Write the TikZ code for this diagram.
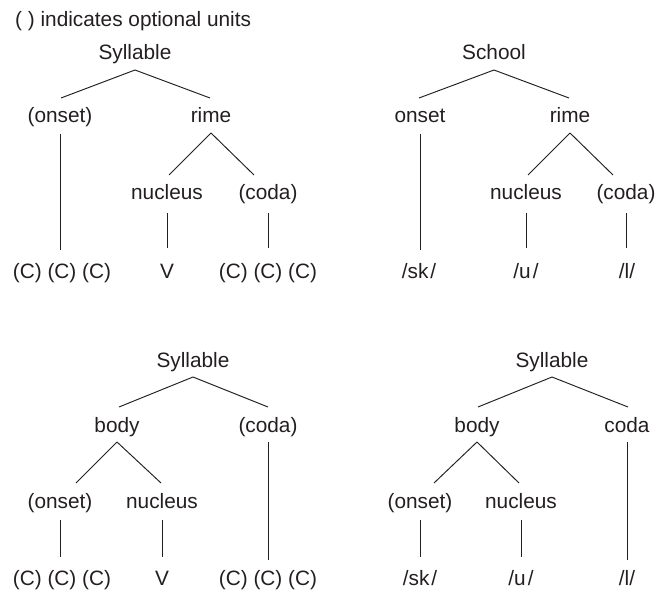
\documentclass[tikz,border=0pt]{standalone}
\usepackage{fontspec}
\setmainfont{Liberation Sans}
\usetikzlibrary{calc}
\definecolor{ink}{RGB}{35,31,32}
\newcommand{\treeline}[3]{\draw[edge] ($(#1.base)+(0,10)$) -- ($(#2.base)+(#3,-25)$);}
\newcommand{\stemline}[4]{\draw[edge] ($(#1.base)+(0,#3)$) -- ($(#1.base |- #2.base)+(0,#4)$);}
\begin{document}
\begin{tikzpicture}[x=1pt,y=-1pt,
  lbl/.style={anchor=base,inner sep=0pt,text=ink,font=\fontsize{20.8}{25}\selectfont},
  edge/.style={draw=ink,line width=0.95pt}]
\useasboundingbox (0,0) rectangle (656,591);
% legend
\node[lbl,anchor=base west] (legend) at (15,27) {( ) indicates optional units};
% ---------- tree A (top-left)
\node[lbl] (sylA) at (135,60) {Syllable};
\node[lbl] (onA) at (60,123) {(onset)};
\node[lbl] (rimeA) at (211,123) {rime};
\node[lbl] (nucA) at (167,200) {nucleus};
\node[lbl] (codaA) at (268,200) {(coda)};
\node[lbl] (cA1) at (62,278) {(C) (C) (C)};
\node[lbl] (vA) at (167,278) {V};
\node[lbl] (cA2) at (268,278) {(C) (C) (C)};
\treeline{sylA}{onA}{1}
\treeline{sylA}{rimeA}{-1}
\treeline{rimeA}{nucA}{2}
\treeline{rimeA}{codaA}{-14}
\stemline{onA}{cA1}{11}{-28}
\stemline{nucA}{vA}{13}{-30}
\stemline{codaA}{cA2}{13}{-30}
% ---------- tree B (top-right)
\node[lbl] (school) at (494,60) {School};
\node[lbl] (onB) at (420,123) {onset};
\node[lbl] (rimeB) at (570,123) {rime};
\node[lbl] (nucB) at (526,200) {nucleus};
\node[lbl] (codaB) at (626,200) {(coda)};
\node[lbl] (skB) at (419,278) {/sk\kern2pt/};
\node[lbl] (uB) at (526,278) {/u\kern2pt/};
\node[lbl] (lB) at (627,278) {/l/};
\treeline{school}{onB}{-1}
\treeline{school}{rimeB}{-1}
\treeline{rimeB}{nucB}{2}
\treeline{rimeB}{codaB}{-13}
\stemline{onB}{skB}{11}{-28}
\stemline{nucB}{uB}{13}{-30}
\stemline{codaB}{lB}{13}{-30}
% ---------- tree C (bottom-left)
\node[lbl] (sylC) at (193,367) {Syllable};
\node[lbl] (bodyC) at (117,432) {body};
\node[lbl] (codaC) at (268,432) {(coda)};
\node[lbl] (onC) at (60,508) {(onset)};
\node[lbl] (nucC) at (162,508) {nucleus};
\node[lbl] (cC1) at (62,585) {(C) (C) (C)};
\node[lbl] (vC) at (162,585) {V};
\node[lbl] (cC2) at (268,585) {(C) (C) (C)};
\treeline{sylC}{bodyC}{2}
\treeline{sylC}{codaC}{0}
\treeline{bodyC}{onC}{16}
\treeline{bodyC}{nucC}{-1}
\stemline{onC}{cC1}{12}{-28}
\stemline{nucC}{vC}{12}{-28}
\stemline{codaC}{cC2}{10}{-25}
% ---------- tree D (bottom-right)
\node[lbl] (sylD) at (552,367) {Syllable};
\node[lbl] (bodyD) at (477,432) {body};
\node[lbl] (codaD) at (627,432) {coda};
\node[lbl] (onD) at (420,508) {(onset)};
\node[lbl] (nucD) at (521,508) {nucleus};
\node[lbl] (skD) at (420,585) {/sk\kern2pt/};
\node[lbl] (uD) at (521,585) {/u\kern2pt/};
\node[lbl] (lD) at (627,585) {/l/};
\treeline{sylD}{bodyD}{1}
\treeline{sylD}{codaD}{1}
\treeline{bodyD}{onD}{14}
\treeline{bodyD}{nucD}{-2}
\stemline{onD}{skD}{12}{-28}
\stemline{nucD}{uD}{12}{-28}
\stemline{codaD}{lD}{10}{-25}
\end{tikzpicture}
\end{document}
